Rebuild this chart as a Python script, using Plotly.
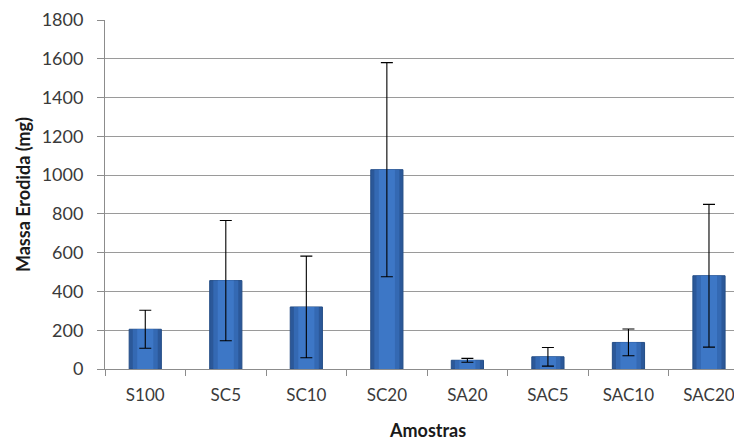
import plotly.graph_objects as go

categories = ["S100", "SC5", "SC10", "SC20", "SA20", "SAC5", "SAC10", "SAC20"]
massa = [205, 456, 320, 1028, 45, 63, 137, 481]
erro = [98, 310, 262, 552, 10, 48, 69, 368]
y_ticks = [0, 200, 400, 600, 800, 1000, 1200, 1400, 1600, 1800]

FONT = "Lato, 'Open Sans', Arial, sans-serif"

fig = go.Figure()
# layered bars to imitate the bevelled gradient of the original
fig.add_trace(go.Bar(x=categories, y=massa, width=0.4,
                     marker=dict(color="#2b5899", line=dict(color="#244d86", width=1)),
                     hoverinfo="skip"))
fig.add_trace(go.Bar(x=categories, y=massa, width=0.31,
                     marker=dict(color="#3469b3", line=dict(width=0)),
                     hoverinfo="skip"))
fig.add_trace(go.Bar(x=categories, y=massa, width=0.2,
                     marker=dict(color="#3d77c6", line=dict(width=0)),
                     error_y=dict(type="data", array=erro, visible=True, color="black",
                                  thickness=1.1, width=6)))

fig.update_layout(
    width=734, height=434,
    margin=dict(l=97, r=0, t=12, b=73),
    barmode="overlay",
    paper_bgcolor="white", plot_bgcolor="white",
    showlegend=False,
    font=dict(family=FONT, size=18, color="#3a3a3a"),
    xaxis=dict(
        range=[-0.5, 7.41],
        showline=True, linecolor="#8c8c8c", linewidth=1,
        ticks="outside", tickson="boundaries", ticklen=6, tickcolor="#8c8c8c",
        showgrid=False,
        tickfont=dict(family=FONT, size=17, color="#3a3a3a"),
        ticklabelstandoff=11,
    ),
    yaxis=dict(
        range=[0, 1800], tickvals=y_ticks,
        showline=True, linecolor="#8c8c8c", linewidth=1,
        ticks="outside", ticklen=7, tickcolor="#8c8c8c",
        showgrid=True, gridcolor="#9a9a9a", gridwidth=1,
        zeroline=False,
        tickfont=dict(family=FONT, size=18, color="#3a3a3a"),
        ticklabelstandoff=10,
        title=dict(text="<b>Massa Erodida (mg)</b>", font=dict(family=FONT, size=18, color="#1a1a1a"), standoff=6),
    ),
    annotations=[dict(
        text="<b>Amostras</b>", x=3.5, xref="x", y=-0.175, yref="paper",
        xanchor="center", yanchor="middle", showarrow=False,
        font=dict(family=FONT, size=18, color="#1a1a1a"),
    )],
)

fig.write_html("out.html")
